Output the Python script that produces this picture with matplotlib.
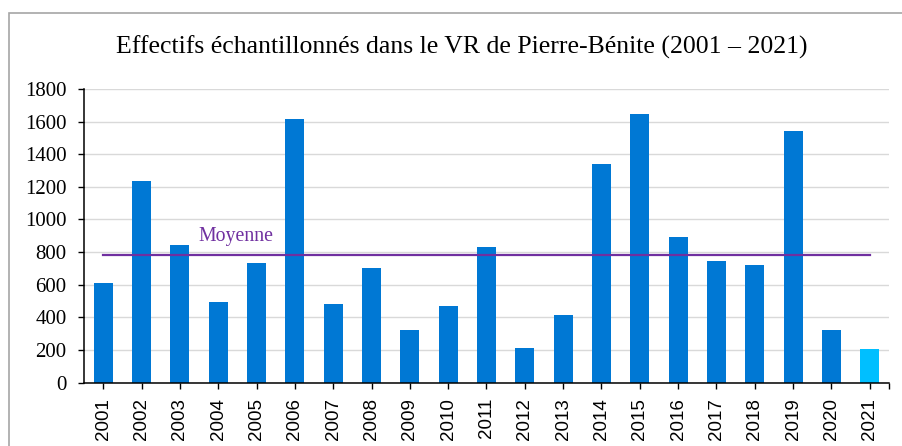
import numpy as np
import matplotlib
matplotlib.use('Agg')
import matplotlib.pyplot as plt
from matplotlib.patches import Rectangle

# Data
years = ['2001', '2002', '2003', '2004', '2005', '2006', '2007', '2008', '2009', '2010', '2011',
         '2012', '2013', '2014', '2015', '2016', '2017', '2018', '2019', '2020', '2021']
effectifs = [612, 1237, 845, 494, 735, 1618, 484, 700, 322, 471, 833,
             214, 412, 1339, 1649, 890, 745, 723, 1541, 322, 208]
moyenne = np.mean(effectifs)

bar_color = '#0078D4'
last_color = '#00BFFF'
mean_color = '#7030A0'
serif = ['Liberation Serif', 'DejaVu Serif']
sans = ['Liberation Sans', 'DejaVu Sans']

W, H = 903, 446
fig = plt.figure(figsize=(W / 100, H / 100), dpi=100)
ax = fig.add_axes([84 / W, 1 - 382.5 / H, (889 - 84) / W, (382.5 - 89) / H])

x = np.arange(len(years))
colors = [bar_color] * (len(years) - 1) + [last_color]
ax.bar(x, effectifs, width=0.5, color=colors, zorder=2)

# Mean line from first to last category
ax.plot([x[0], x[-1]], [moyenne, moyenne], color=mean_color, lw=1.6, zorder=3)
ax.text(3.47, moyenne + 55, 'Moyenne', color=mean_color, fontsize=14.3,
        family=serif, ha='center', va='bottom')

ax.set_xlim(-0.5, len(years) - 0.5)
ax.set_ylim(0, 1800)
ax.set_yticks(range(0, 1801, 200))
ax.set_xticks(x)
ax.set_xticklabels(years, rotation=90, family=sans, fontsize=13.5)
ax.set_xticks([len(years) - 0.5], minor=True)
for lab in ax.get_yticklabels():
    lab.set_family(serif)
    lab.set_fontsize(15)

ax.grid(axis='y', color='#D9D9D9', lw=1, zorder=0)
for s in ['top', 'right']:
    ax.spines[s].set_visible(False)
for s in ['left', 'bottom']:
    ax.spines[s].set_linewidth(1.1)
ax.tick_params(axis='y', length=4.3, width=1, pad=8.2)
ax.tick_params(axis='x', which='both', length=4, width=1, pad=7)

# Title and outer frame
fig.text(462 / W, 1 - 47 / H, 'Effectifs échantillonnés dans le VR de Pierre-Bénite (2001 – 2021)',
         family=serif, fontsize=18.5, ha='center', va='center')
fig.patches.append(Rectangle((9 / W, -0.1), 1.2, 1.1 - 13 / H, transform=fig.transFigure,
                             fill=False, edgecolor='#A6A6A6', lw=1.2))

fig.savefig('out.png', dpi=100)
